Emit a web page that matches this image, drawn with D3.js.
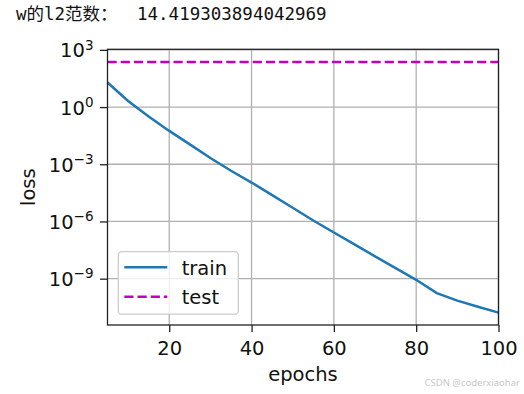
<!DOCTYPE html>
<html>
<head>
<meta charset="utf-8">
<script src="https://cdn.jsdelivr.net/npm/d3@7"></script>
<style>
  body { margin: 0; background: #fff; }
  svg { display: block; }
</style>
</head>
<body>
<div id="chart"></div>
<script>
// data (loss every 5 epochs)
const epochs = [5, 10, 15, 20, 25, 30, 35, 40, 45, 50, 55, 60, 65, 70, 75, 80, 85, 90, 95, 100];
const trainLoss = [19.5, 2.09, 0.316, 0.0562, 0.011, 2.14e-3, 4.57e-4, 1.10e-4, 2.40e-5, 5.25e-6,
                   1.12e-6, 2.63e-7, 6.31e-8, 1.48e-8, 3.55e-9, 8.71e-10, 1.74e-10, 7.08e-11, 3.39e-11, 1.66e-11];
const testLoss = [234, 234, 234, 234, 234, 234, 234, 234, 234, 234,
                  234, 234, 234, 234, 234, 234, 234, 234, 234, 234];
const xTicks = [20, 40, 60, 80, 100];
const yTicks = [1e-9, 1e-6, 1e-3, 1e0, 1e3];
const seriesNames = ["train", "test"];
const titleLabel = "w的l2范数：";
const titleValue = "14.419303894042969";

const width = 524, height = 394;
const plot = { left: 107.5, right: 498.5, top: 49.3, bottom: 325 };

const svg = d3.select("#chart").append("svg")
    .attr("width", width)
    .attr("height", height);

const x = d3.scaleLinear().domain([5, 100]).range([plot.left, plot.right]);
const y = d3.scaleLog().domain([Math.pow(10, -11.43), Math.pow(10, 3.03)]).range([plot.bottom, plot.top]);

const font = "'DejaVu Sans', sans-serif";
const fs = "19.5px";

// printed output line above the figure
const title = svg.append("text")
    .attr("y", 20)
    .style("font-size", "17.5px")
    .style("fill", "#111");
title.append("tspan").attr("x", 16)
    .style("font-family", "'DejaVu Sans Mono', 'Noto Sans CJK SC', monospace")
    .text(titleLabel);
title.append("tspan").attr("x", 137)
    .style("font-family", "'DejaVu Sans Mono', monospace")
    .text(titleValue);

// grid
svg.append("g").selectAll("line")
    .data(xTicks)
    .join("line")
    .attr("x1", d => x(d)).attr("x2", d => x(d))
    .attr("y1", plot.top).attr("y2", plot.bottom)
    .attr("stroke", "#b0b0b0").attr("stroke-width", 1.3);

svg.append("g").selectAll("line")
    .data(yTicks)
    .join("line")
    .attr("x1", plot.left).attr("x2", plot.right)
    .attr("y1", d => y(d)).attr("y2", d => y(d))
    .attr("stroke", "#b0b0b0").attr("stroke-width", 1.3);

// lines
const line = d3.line()
    .x((d, i) => x(epochs[i]))
    .y(d => y(d));

svg.append("path")
    .datum(trainLoss)
    .attr("fill", "none")
    .attr("stroke", "#1f77b4")
    .attr("stroke-width", 2.5)
    .attr("d", line);

svg.append("path")
    .datum(testLoss)
    .attr("fill", "none")
    .attr("stroke", "#bf00bf")
    .attr("stroke-width", 2.5)
    .attr("stroke-dasharray", "9.2,4")
    .attr("d", line);

// x axis
const xAxis = svg.append("g")
    .attr("transform", `translate(0,${plot.bottom})`)
    .call(d3.axisBottom(x).tickValues(xTicks).tickSize(7).tickPadding(9.2));
xAxis.select(".domain").remove();
xAxis.selectAll(".tick line").attr("stroke", "#222").attr("stroke-width", 1.3);
xAxis.selectAll(".tick text")
    .style("font-family", font).style("font-size", fs).attr("fill", "#111");

// y axis with power-of-ten labels
const yAxis = svg.append("g")
    .attr("transform", `translate(${plot.left},0)`)
    .call(d3.axisLeft(y).tickValues(yTicks).tickSize(7.5).tickPadding(6.5).tickFormat(""));
yAxis.select(".domain").remove();
yAxis.selectAll(".tick line").attr("stroke", "#222").attr("stroke-width", 1.3);
yAxis.selectAll(".tick text").each(function(d) {
    const t = d3.select(this)
        .style("font-family", font).style("font-size", fs)
        .attr("fill", "#111").attr("dy", "0.36em");
    const p = Math.round(Math.log10(d));
    t.append("tspan").text("10");
    t.append("tspan")
        .attr("dy", "-7.7px")
        .style("font-size", "13.5px")
        .text(p < 0 ? "\u2212" + (-p) : String(p));
});

// spines
svg.append("rect")
    .attr("x", plot.left).attr("y", plot.top)
    .attr("width", plot.right - plot.left).attr("height", plot.bottom - plot.top)
    .attr("fill", "none").attr("stroke", "#222").attr("stroke-width", 1.3);

// axis labels
svg.append("text")
    .attr("x", (plot.left + plot.right) / 2).attr("y", 380.5)
    .attr("text-anchor", "middle")
    .style("font-family", font).style("font-size", fs).attr("fill", "#111")
    .text("epochs");

svg.append("text")
    .attr("transform", `translate(35,${(plot.top + plot.bottom) / 2}) rotate(-90)`)
    .attr("text-anchor", "middle")
    .style("font-family", font).style("font-size", fs).attr("fill", "#111")
    .text("loss");

// legend
const legend = svg.append("g").attr("transform", "translate(118.3,251.7)");
legend.append("rect")
    .attr("width", 120).attr("height", 62.5)
    .attr("rx", 3.5)
    .attr("fill", "#fff").attr("fill-opacity", 0.8)
    .attr("stroke", "#cccccc").attr("stroke-width", 1.3);

const legendStyles = [
    { color: "#1f77b4", dash: null },
    { color: "#bf00bf", dash: "9.2,4" }
];
seriesNames.forEach((name, i) => {
    const yy = 15.6 + i * 29.4;
    legend.append("line")
        .attr("x1", 6).attr("x2", 49)
        .attr("y1", yy).attr("y2", yy)
        .attr("stroke", legendStyles[i].color)
        .attr("stroke-width", 2.5)
        .attr("stroke-dasharray", legendStyles[i].dash);
    legend.append("text")
        .attr("x", 63.4).attr("y", yy + 7.5)
        .style("font-family", font).style("font-size", fs).attr("fill", "#111")
        .text(name);
});

// watermark
svg.append("text")
    .attr("x", 520).attr("y", 386)
    .attr("text-anchor", "end")
    .style("font-family", "'Noto Sans', sans-serif").style("font-size", "9.5px")
    .attr("fill", "#c8c8c8")
    .text("CSDN @coderxiaohar");
</script>
</body>
</html>
